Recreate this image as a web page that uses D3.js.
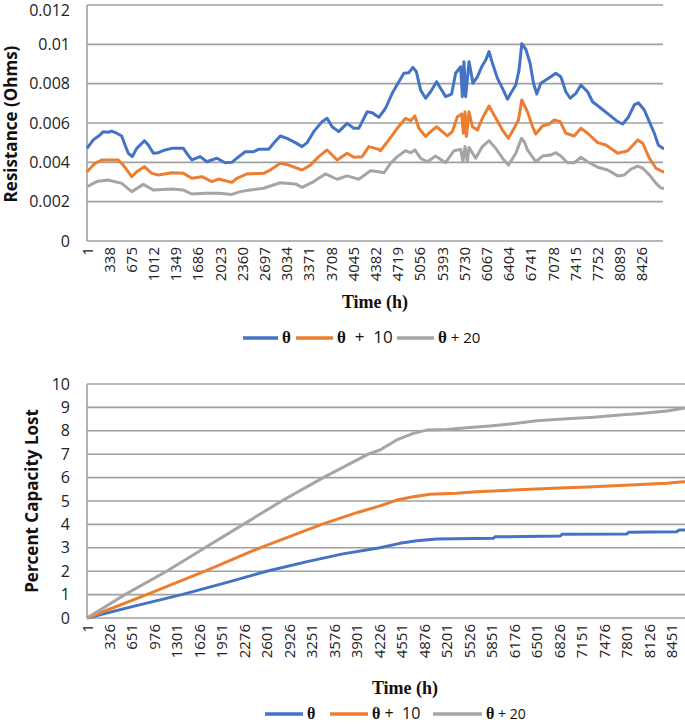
<!DOCTYPE html>
<html><head><meta charset="utf-8">
<script src="https://cdn.jsdelivr.net/npm/d3@7"></script>
<style>body{margin:0;background:#fff}svg{display:block}</style>
</head><body>
<svg id="c" width="685" height="724"></svg>
<script>
// ---------- Top chart: Resistance ----------
const resTicks = [0, 0.002, 0.004, 0.006, 0.008, 0.01, 0.012];
const resTickLabels = ["0", "0.002", "0.004", "0.006", "0.008", "0.01", "0.012"];
const resXLabels = [1,338,675,1012,1349,1686,2023,2360,2697,3034,3371,3708,4045,4382,4719,5056,5393,5730,6067,6404,6741,7078,7415,7752,8089,8426];

const thetaHours = [1,96,198,248,324,376,452,528,578,628,689,756,872,932,1008,1084,1186,1288,1465,1516,1592,1719,1821,1973,2099,2200,2277,2403,2529,2605,2758,2834,2935,3037,3164,3266,3342,3442,3570,3646,3722,3822,3950,4050,4127,4254,4330,4431,4533,4634,4735,4811,4887,4948,5000,5065,5141,5217,5308,5384,5445,5536,5597,5673,5699,5723,5749,5800,5860,5927,5993,6054,6104,6156,6232,6308,6384,6434,6510,6560,6601,6662,6727,6779,6829,6890,6966,7042,7118,7194,7270,7336,7423,7499,7600,7676,7803,7929,8057,8133,8218,8309,8370,8461,8537,8613,8674,8741,8760];
const thetaRes = [0.00471,0.00514,0.00539,0.00556,0.00553,0.00559,0.00548,0.00534,0.00488,0.00446,0.00429,0.00471,0.00510,0.00488,0.00446,0.00449,0.00463,0.00471,0.00471,0.00446,0.00412,0.00429,0.00403,0.00421,0.00398,0.00400,0.00421,0.00454,0.00454,0.00466,0.00466,0.00497,0.00534,0.00522,0.00500,0.00480,0.00500,0.00556,0.00607,0.00624,0.00581,0.00556,0.00598,0.00573,0.00573,0.00657,0.00652,0.00629,0.00675,0.00751,0.00810,0.00853,0.00856,0.00883,0.00861,0.00768,0.00726,0.00759,0.00810,0.00768,0.00734,0.00747,0.00853,0.00886,0.00734,0.00912,0.00734,0.00912,0.00802,0.00835,0.00886,0.00920,0.00963,0.00904,0.00827,0.00776,0.00721,0.00751,0.00793,0.00870,0.01003,0.00975,0.00904,0.00802,0.00747,0.00802,0.00819,0.00835,0.00853,0.00835,0.00759,0.00726,0.00751,0.00793,0.00759,0.00708,0.00675,0.00641,0.00607,0.00595,0.00629,0.00692,0.00703,0.00666,0.00607,0.00548,0.00488,0.00471,0.00471];

const theta10Hours = [1,122,224,476,552,680,756,872,984,1084,1288,1465,1592,1745,1897,1997,2201,2277,2429,2682,2783,2935,3062,3266,3392,3518,3646,3798,3950,4050,4178,4279,4431,4456,4583,4711,4837,4913,4978,5039,5141,5217,5308,5395,5471,5547,5623,5689,5714,5739,5760,5800,5851,5927,6003,6104,6180,6308,6399,6484,6551,6601,6688,6764,6814,6916,7017,7093,7184,7270,7397,7499,7600,7753,7879,8057,8209,8361,8437,8537,8639,8741,8760];
const theta10Res = [0.00352,0.00395,0.00412,0.00412,0.00386,0.00327,0.00352,0.00378,0.00344,0.00336,0.00347,0.00344,0.00319,0.00327,0.00302,0.00315,0.00298,0.00319,0.00341,0.00344,0.00361,0.00395,0.00386,0.00361,0.00386,0.00429,0.00463,0.00412,0.00446,0.00426,0.00429,0.00480,0.00466,0.00459,0.00514,0.00573,0.00624,0.00612,0.00636,0.00573,0.00531,0.00556,0.00581,0.00556,0.00534,0.00556,0.00632,0.00646,0.00548,0.00657,0.00531,0.00657,0.00581,0.00564,0.00624,0.00686,0.00641,0.00564,0.00522,0.00573,0.00615,0.00717,0.00657,0.00581,0.00544,0.00585,0.00595,0.00615,0.00607,0.00548,0.00534,0.00573,0.00548,0.00500,0.00488,0.00446,0.00459,0.00514,0.00497,0.00421,0.00370,0.00352,0.00352];

const theta20Hours = [1,148,324,528,680,856,1008,1288,1465,1592,1795,1997,2201,2327,2479,2682,2935,3164,3266,3442,3620,3798,3950,4127,4304,4431,4507,4609,4711,4836,4913,4978,5065,5167,5293,5445,5571,5673,5708,5739,5775,5800,5901,6003,6104,6206,6308,6399,6510,6597,6640,6688,6814,6916,7042,7118,7194,7296,7397,7499,7601,7753,7905,8057,8157,8259,8361,8437,8538,8640,8716,8760];
const theta20Res = [0.00276,0.00302,0.00310,0.00293,0.00251,0.00288,0.00259,0.00264,0.00259,0.00239,0.00243,0.00243,0.00237,0.00251,0.00259,0.00268,0.00296,0.00290,0.00273,0.00302,0.00341,0.00314,0.00331,0.00314,0.00357,0.00352,0.00347,0.00395,0.00429,0.00459,0.00449,0.00463,0.00421,0.00403,0.00432,0.00398,0.00459,0.00466,0.00403,0.00480,0.00403,0.00476,0.00421,0.00480,0.00510,0.00471,0.00421,0.00386,0.00446,0.00522,0.00505,0.00463,0.00403,0.00432,0.00437,0.00449,0.00432,0.00398,0.00398,0.00426,0.00403,0.00375,0.00361,0.00331,0.00336,0.00365,0.00381,0.00370,0.00336,0.00293,0.00268,0.00268];

// ---------- Bottom chart: Percent Capacity Lost ----------
const capTicks = [0,1,2,3,4,5,6,7,8,9,10];
const capXLabels = [1,326,651,976,1301,1626,1951,2276,2601,2926,3251,3576,3901,4226,4551,4876,5201,5526,5851,6176,6501,6826,7151,7476,7801,8126,8451];

const thetaCapHours = [1,700,1369,2000,2597,3200,3700,4235,4524,4766,5055,5873,5900,6837,6870,7801,7830,8524,8560,8760];
const thetaCap = [0,0.52,1.0,1.50,2.0,2.42,2.74,3.00,3.19,3.30,3.38,3.41,3.47,3.50,3.58,3.59,3.66,3.69,3.76,3.77];

const theta10CapHours = [1,863,1706,2501,3392,3900,4235,4477,4718,4958,5344,5633,6162,6740,7319,7849,8379,8620,8760];
const theta10Cap = [0,1.0,2.0,3.0,4.0,4.50,4.79,5.04,5.18,5.29,5.33,5.40,5.47,5.54,5.61,5.68,5.76,5.82,5.84];

const theta20CapHours = [1,549,1152,1706,2260,2814,3416,4066,4235,4477,4718,4910,5199,5488,5825,6211,6500,6885,7319,7704,8041,8379,8620,8760];
const theta20Cap = [0,1.0,2.0,3.0,4.0,5.0,6.0,7.0,7.18,7.61,7.89,8.03,8.06,8.13,8.21,8.32,8.43,8.50,8.58,8.68,8.75,8.85,8.96,9.0];

const seriesNames = ["θ", "θ + 10", "θ + 20"];
const colors = ["#4472C4", "#ED7D31", "#A5A5A5"];

const svg = d3.select("#c");
const gridColor = "#a0a0a0";
const sans = "'Open Sans', 'Liberation Sans', sans-serif";
const serif = "'Liberation Serif', 'DejaVu Serif', serif";

function drawChart(cfg) {
  const x = d3.scaleLinear().domain([1, 8760]).range([cfg.left, cfg.right]);
  const y = d3.scaleLinear().domain(cfg.yDomain).range([cfg.bottom, cfg.top]);
  const g = svg.append("g");
  g.selectAll("line.grid").data(cfg.yTicks).enter().append("line")
    .attr("x1", cfg.left).attr("x2", cfg.gridRight)
    .attr("y1", d => y(d)).attr("y2", d => y(d))
    .attr("stroke", gridColor).attr("stroke-width", 1.6);
  g.append("line").attr("x1", cfg.left).attr("x2", cfg.left)
    .attr("y1", y(cfg.yDomain[1])).attr("y2", y(cfg.yDomain[0]))
    .attr("stroke", gridColor).attr("stroke-width", 1.6);
  g.selectAll("text.yt").data(cfg.yTicks).enter().append("text")
    .attr("x", cfg.left - 17).attr("y", d => Math.max(y(d), 10)).attr("dy", "0.35em")
    .attr("text-anchor", "end").attr("font-family", sans).attr("font-size", 16)
    .attr("fill", "#222").text((d, i) => cfg.yTickLabels[i]);
  g.selectAll("text.xt").data(cfg.xLabels).enter().append("text")
    .attr("transform", d => `translate(${x(d) + 5.5},${cfg.bottom + 6}) rotate(-90)`)
    .attr("text-anchor", "end").attr("font-family", sans).attr("font-size", 15)
    .attr("fill", "#222").text(d => d);
  const line = d3.line().x(d => x(d[0])).y(d => y(d[1])).curve(d3.curveLinear);
  cfg.series.forEach((s, i) => {
    const pts = s.hours.map((h, j) => [h, s.values[j]]);
    g.append("path").attr("d", line(pts)).attr("fill", "none")
      .attr("stroke", colors[i]).attr("stroke-width", 3)
      .attr("stroke-linejoin", "round");
  });
  g.append("text").attr("transform", `translate(${cfg.yTitleX},${cfg.yTitleY}) rotate(-90)`)
    .attr("text-anchor", "middle").attr("font-family", sans).attr("font-weight", "bold")
    .attr("font-size", cfg.yTitleSize).attr("fill", "#111").text(cfg.yTitle);
  g.append("text").attr("x", cfg.xTitleX).attr("y", cfg.xTitleY)
    .attr("text-anchor", "middle").attr("font-family", serif).attr("font-weight", "bold")
    .attr("font-size", 18).attr("fill", "#111").text("Time (h)");
  cfg.legend.forEach((L, i) => {
    g.append("line").attr("x1", L.x1).attr("x2", L.x2).attr("y1", cfg.legendY).attr("y2", cfg.legendY)
      .attr("stroke", colors[i]).attr("stroke-width", 3.5);
    const t = g.append("text").attr("x", L.x2 + 4).attr("y", cfg.legendY + 5)
      .attr("font-size", cfg.legendSize).attr("fill", "#111");
    t.append("tspan").attr("font-family", serif).attr("font-weight", "bold").text("θ");
    if (i > 0) {
      t.append("tspan").attr("font-family", sans).attr("xml:space", "preserve")
        .attr("font-size", L.fs).text(L.suffix);
    }
  });
}

drawChart({
  left: 87, right: 664, gridRight: 663, top: 5, bottom: 241,
  yDomain: [0, 0.012], yTicks: resTicks, yTickLabels: resTickLabels,
  xLabels: resXLabels,
  series: [
    {hours: thetaHours, values: thetaRes},
    {hours: theta10Hours, values: theta10Res},
    {hours: theta20Hours, values: theta20Res}
  ],
  yTitle: "Resistance (Ohms)", yTitleX: 17, yTitleY: 124, yTitleSize: 17,
  xTitleX: 375, xTitleY: 308,
  legendY: 338, legendSize: 17,
  legend: [
    {x1: 243, x2: 278},
    {x1: 296, x2: 333, suffix: "  +  10", fs: 17},
    {x1: 397, x2: 434, suffix: " + 20", fs: 15}
  ]
});

drawChart({
  left: 87, right: 693, gridRight: 700, top: 384, bottom: 618,
  yDomain: [0, 10], yTicks: capTicks, yTickLabels: capTicks.map(String),
  xLabels: capXLabels,
  series: [
    {hours: thetaCapHours, values: thetaCap},
    {hours: theta10CapHours, values: theta10Cap},
    {hours: theta20CapHours, values: theta20Cap}
  ],
  yTitle: "Percent  Capacity Lost", yTitleX: 38, yTitleY: 501, yTitleSize: 17,
  xTitleX: 405, xTitleY: 694,
  legendY: 714, legendSize: 16,
  legend: [
    {x1: 265, x2: 303},
    {x1: 330, x2: 368, suffix: " +  10", fs: 16},
    {x1: 433, x2: 482, suffix: " + 20", fs: 14}
  ]
});
</script>
</body></html>
